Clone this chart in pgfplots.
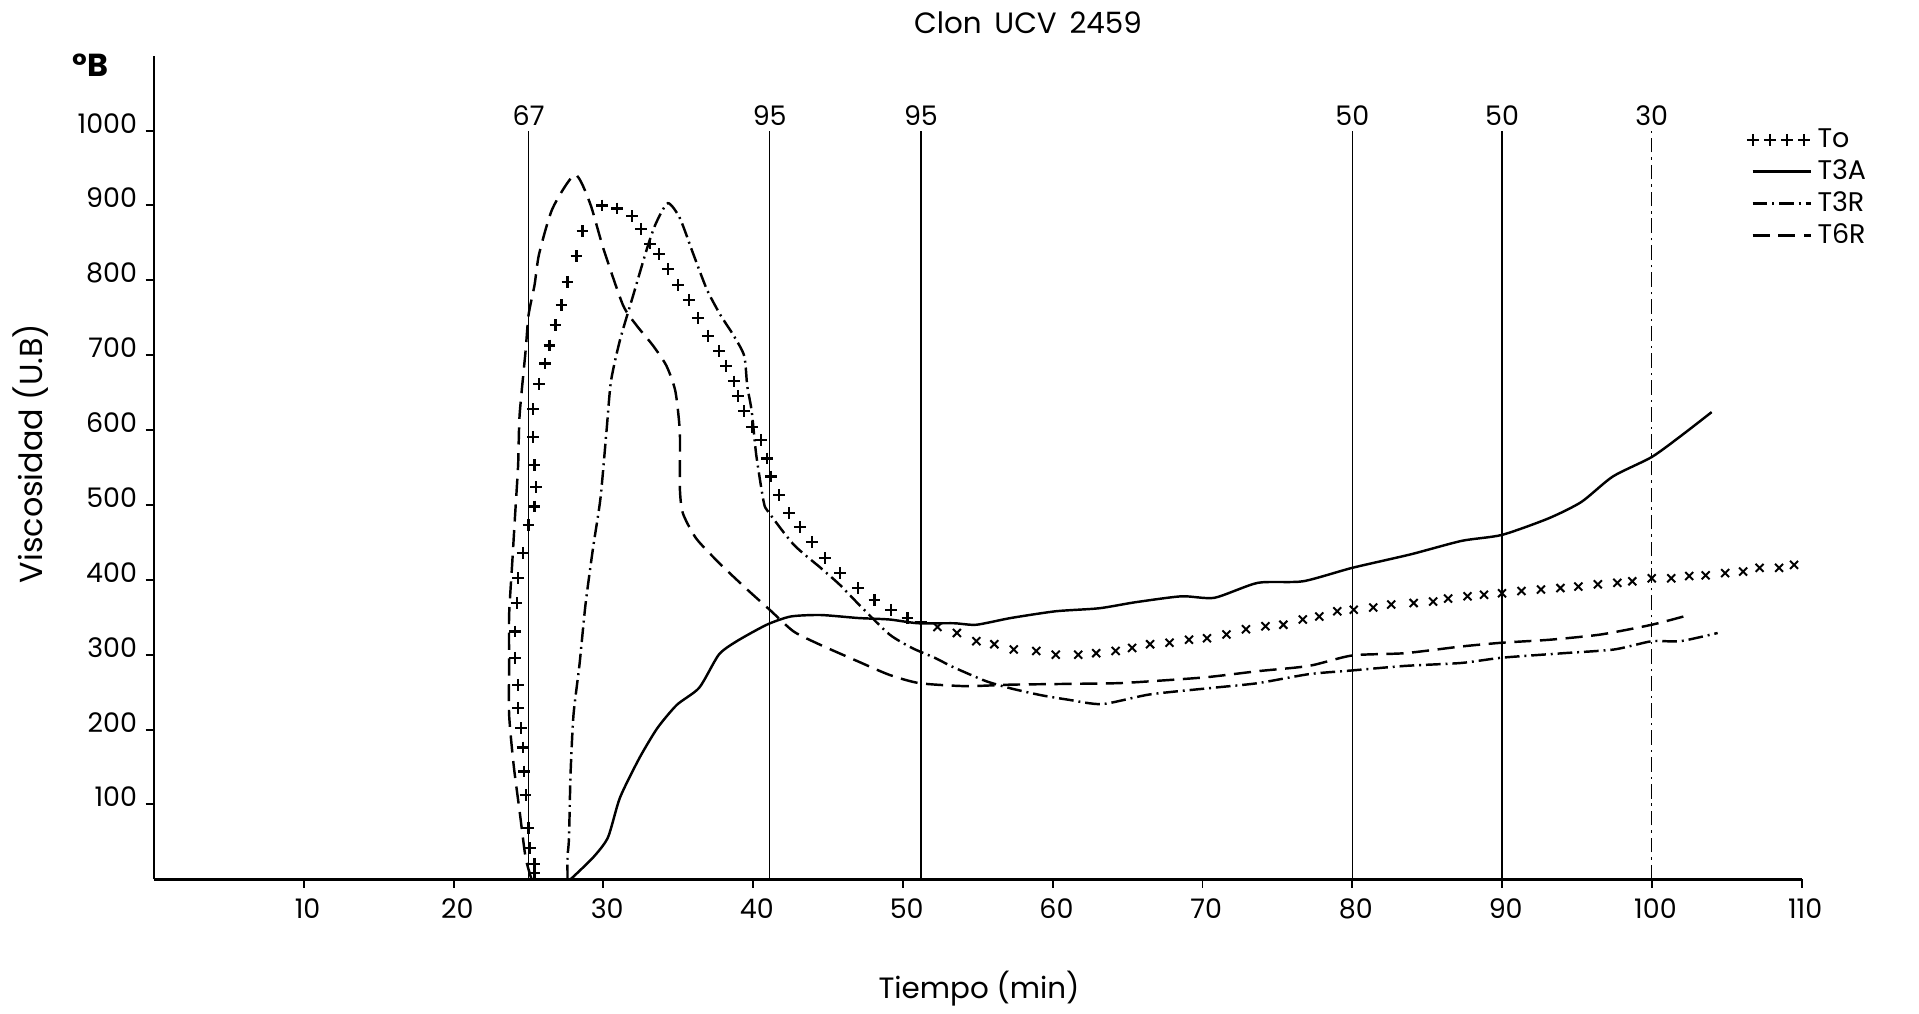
\documentclass[border=0pt]{standalone}
\usepackage{pgfplots}
\pgfplotsset{compat=1.18}
\usepackage{fontspec}
\setmainfont{Poppins}
\pgfplotsset{
  tolegend/.style={legend image code/.code={\draw[##1] plot coordinates {(0pt,0pt) (7pt,0pt) (14pt,0pt) (21pt,0pt)};}},
  linelegend/.style={legend image code/.code={\draw[##1] (0pt,0pt) -- (24pt,0pt);}},
}

\begin{document}
\begin{tikzpicture}[font=\fontsize{11}{13}\selectfont]
\path[use as bounding box] (-63pt,-54.75pt) rectangle (721pt,359.25pt);
\begin{axis}[
  at={(0pt,0pt)}, anchor=south west,
  scale only axis, width=673pt, height=336.5pt,
  xmin=0, xmax=110, ymin=0, ymax=1100,
  axis lines=left, axis line style={-, line width=1pt},
  xtick={10,20,...,110},
  xticklabels={10,20,30,40,50,60,70,80,90,100,110},
  ytick={100,200,...,1000},
  yticklabels={100,200,300,400,500,600,700,800,900,1000},
  tick align=outside, major tick length=3.5pt,
  tick style={black, line width=0.8pt},
  xticklabel style={yshift=-1pt, xshift=1.5pt},
  yticklabel style={yshift=3pt, xshift=0pt},
  clip=false,
  legend cell align=left,
  legend style={draw=none, fill=none, at={(axis description cs:0.962,0.924)}, anchor=north west, font=\fontsize{11}{12}\selectfont, row sep=-0.5pt},
]
% To (plus marks)
\addplot[only marks, mark=+, mark size=2.4pt, line width=0.9pt, tolegend]
coordinates {
(25.4,8) (25.4,20) (25.1,42) (25.0,69) (24.8,113) (24.7,144) (24.6,176) (24.5,202) (24.3,229) (24.3,260)
(24.1,296) (24.1,331) (24.2,369) (24.3,402) (24.6,436) (25.0,473) (25.4,498) (25.5,524) (25.4,553) (25.3,591)
(25.3,628) (25.7,662) (26.1,689) (26.4,713) (26.8,740) (27.2,767) (27.6,798) (28.2,832) (28.6,866) (29.9,900)
(30.9,896) (31.9,886) (32.5,869) (33.1,849) (33.7,835) (34.3,815) (35.0,794) (35.7,774) (36.3,750) (37.0,726)
(37.7,706) (38.2,686) (38.7,665) (39.0,645) (39.4,625) (39.9,604) (40.5,587) (40.9,562) (41.2,538) (41.7,513)
(42.4,489) (43.1,471) (43.9,451) (44.8,429) (45.8,409) (47.0,389) (48.1,373) (49.2,360) (50.3,349) (51.2,343)
};
\addlegendentry{To}
% T3A solid
\addplot[black, line width=1pt, smooth, tension=0.4, linelegend] coordinates {
(27.8,0) (29.3,29) (30.3,56) (31.1,109) (32.4,162) (33.6,202) (34.9,233) (36.4,256) (37.7,300) (38.9,318)
(40.9,340) (42.5,351) (44.5,353) (47.0,349) (49.1,347) (51.0,342) (53.4,342) (54.9,340) (57.2,349) (60.2,358)
(63.1,362) (65.5,370) (68.6,378) (70.8,376) (73.7,396) (76.7,398) (80,416) (83.9,434) (87.3,452) (90,460)
(93.1,482) (95.3,504) (97.4,538) (100,564) (102,593) (104,624)
};
\addlegendentry{T3A}
% T3R dash-dot
\addplot[black, line width=1pt, dash pattern=on 6pt off 2pt on 0.8pt off 2pt, smooth, tension=0.4, linelegend] coordinates {
(27.6,0) (27.6,30) (27.7,56) (27.8,140) (28.0,220) (28.4,287) (28.8,367) (29.3,442) (29.8,509) (30.2,598)
(30.5,665) (31.1,720) (32.0,781) (32.9,842) (33.5,876) (34.3,903) (35.1,883) (36.0,835) (36.9,788) (37.8,754)
(38.7,726) (39.4,699) (39.6,659) (39.9,625) (40.2,567) (40.7,504) (41.0,491) (42.7,447) (44.5,416) (45.8,393)
(47.3,362) (49.1,327) (50.6,309) (52.1,296) (53.4,283) (55.5,265) (57.2,255) (59.2,246) (61.0,240) (63.3,234)
(66.5,247) (70.8,256) (73.7,262) (77.1,274) (80,279) (83.5,285) (87.3,289) (90,296) (94.1,302) (97.5,307)
(100,318) (101.9,318) (104.4,329)
};
\addlegendentry{T3R}
% T6R dashed
\addplot[black, line width=1pt, dash pattern=on 7pt off 3.5pt, smooth, tension=0.4, linelegend] coordinates {
(25.2,0) (24.8,29) (24.4,91) (24.0,153) (23.7,220) (23.7,287) (23.7,353) (23.9,420) (24.1,487) (24.3,553)
(24.4,620) (24.8,706) (25.0,754) (25.4,794) (25.7,835) (26.6,896) (28.1,941) (29.1,903) (30.0,842) (31.3,767)
(32.2,740) (33.3,713) (34.2,686) (34.8,652) (35.1,597) (35.1,523) (35.3,489) (36.2,455) (37.8,421) (39.6,387)
(41.1,360) (42.7,331) (44.5,313) (47.0,291) (49.1,273) (51.1,262) (54.2,258) (57.2,260) (61.0,261) (64.4,262)
(66.9,265) (70.3,270) (73.7,278) (77.1,285) (80.0,299) (83.5,302) (87.3,311) (90,316) (93.2,320) (96.6,327)
(100,340) (102.3,352)
};
\addlegendentry{T6R}
% To (x marks)
\addplot[only marks, mark=x, mark size=2.3pt, line width=0.8pt, forget plot] coordinates {
(52.3,337) (53.6,329) (54.9,318) (56.1,314) (57.4,307) (58.9,305) (60.2,300) (61.7,300) (62.9,302) (64.2,305)
(65.3,309) (66.5,314) (67.8,316) (69.1,320) (70.3,322) (71.6,327) (72.9,334) (74.2,338) (75.4,340) (76.7,347)
(77.8,351) (79.0,358) (80.1,360) (81.4,363) (82.6,367) (84.1,369) (85.4,371) (86.4,375) (87.7,378) (88.8,380)
(90.0,382) (91.3,385) (92.6,387) (93.9,389) (95.1,391) (96.4,394) (97.7,396) (98.7,398) (100,402) (101.3,402)
(102.5,405) (103.6,406) (104.9,409) (106.1,411) (107.2,416) (108.5,416) (109.5,420)
};
% temperature marker lines
\addplot[black, line width=0.6pt, forget plot] coordinates {(25,0) (25,1000)};
\addplot[black, line width=0.6pt, forget plot] coordinates {(41.1,0) (41.1,1000)};
\addplot[black, line width=0.6pt, forget plot] coordinates {(51.2,0) (51.2,1000)};
\addplot[black, line width=0.5pt, forget plot] coordinates {(80,0) (80,1000)};
\addplot[black, line width=0.5pt, forget plot] coordinates {(90,0) (90,1000)};
\addplot[black, line width=0.5pt, dash pattern=on 6pt off 2pt on 1pt off 2pt, forget plot] coordinates {(100,0) (100,1000)};
\node at (axis cs:25,1020) {67};
\node at (axis cs:41.1,1020) {95};
\node at (axis cs:51.2,1020) {95};
\node at (axis cs:80,1020) {50};
\node at (axis cs:90,1020) {50};
\node at (axis cs:100,1020) {30};
\end{axis}
\node[font=\fontsize{12}{14}\selectfont] at (357pt,350pt) {Clon\, UCV\, 2459};
\node[font=\fontsize{13}{15}\selectfont\bfseries] at (-26pt,332.7pt) {°B};
\node[rotate=90, font=\fontsize{13}{15}\selectfont] at (-50.5pt,174pt) {Viscosidad (U.B)};
\node[font=\fontsize{12}{14}\selectfont] at (337pt,-44.75pt) {Tiempo (min)};
\end{tikzpicture}
\end{document}
